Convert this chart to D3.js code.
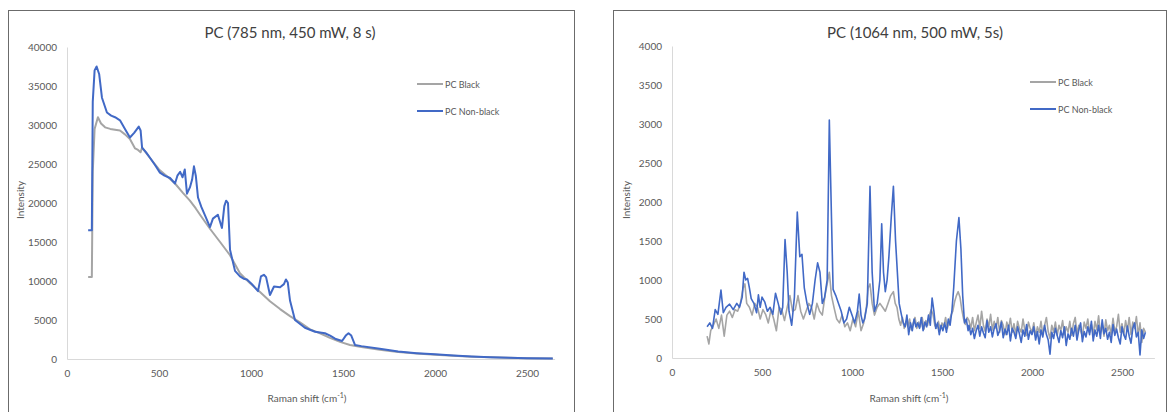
<!DOCTYPE html>
<html>
<head>
<meta charset="utf-8">
<script src="https://cdn.jsdelivr.net/npm/d3@7"></script>
<style>
  body { margin: 0; background: #fff; }
  svg text { font-family: Lato, "Open Sans", sans-serif; fill: #595959; }
</style>
</head>
<body>
<svg id="chart" width="1168" height="412"></svg>
<script>
// PC spectra, 785 nm (left) and 1064 nm (right)
var seriesNames = ["PC Black", "PC Non-black"];
var seriesColors = ["#a5a5a5", "#4169c6"];

var xTicks = [0, 500, 1000, 1500, 2000, 2500];
var yTicks785 = [0, 5000, 10000, 15000, 20000, 25000, 30000, 35000, 40000];
var yTicks1064 = [0, 500, 1000, 1500, 2000, 2500, 3000, 3500, 4000];

var pc785Black = [
  [115,10500],[135,10500],[140,24000],[150,29500],[168,31000],[185,30200],[207,29700],[235,29500],
  [261,29400],[288,29300],[315,28800],[342,28200],[370,27000],[386,26800],[400,26500],[408,27100],
  [450,25800],[500,24300],[550,23300],[587,22500],[630,21300],[668,20300],[700,19300],[723,18500],
  [777,16700],[832,15000],[886,13300],[940,11000],[995,9700],[1049,8600],[1103,7400],[1158,6400],
  [1212,5500],[1266,4700],[1321,3800],[1375,3300],[1429,2700],[1484,2200],[1538,1800],[1600,1550],
  [1700,1200],[1800,900],[1900,700],[2000,550],[2100,420],[2200,300],[2300,220],[2400,150],
  [2500,100],[2640,50]
];
var pc785NonBlack = [
  [115,16500],[135,16500],[140,33000],[150,37000],[161,37500],[175,36500],[190,33500],[217,31600],
  [240,31200],[261,31000],[288,30600],[315,29500],[342,28400],[365,29000],[390,29800],[400,29300],
  [408,27100],[430,26500],[451,25800],[480,24800],[505,23900],[530,23500],[560,23200],[587,22500],
  [600,23500],[615,24000],[628,23300],[640,24300],[652,21200],[668,22000],[680,23000],[690,24700],
  [700,23500],[712,20700],[730,19500],[750,18400],[777,16900],[793,18000],[820,18500],[842,16800],
  [855,19600],[865,20300],[875,20000],[886,14000],[913,11300],[940,10600],[960,10300],[978,10200],
  [1005,9600],[1038,8700],[1054,10600],[1070,10800],[1082,10500],[1103,8200],[1125,9300],[1158,9200],
  [1179,9600],[1190,10200],[1200,9800],[1212,7500],[1239,5000],[1293,4000],[1348,3500],[1402,3300],
  [1430,3000],[1457,2600],[1495,2300],[1515,3000],[1530,3300],[1545,3000],[1565,1800],[1600,1650],
  [1700,1300],[1800,950],[1900,750],[2000,600],[2100,450],[2200,320],[2300,240],[2400,160],
  [2500,110],[2640,60]
];

var pc1064Black = [
  [195,280],[205,180],[215,350],[230,420],[245,500],[260,380],[275,550],[290,280],[305,550],[320,600],
  [335,520],[350,620],[365,600],[380,700],[395,900],[405,950],[415,700],[430,650],[445,550],[460,700],
  [475,650],[490,500],[505,620],[520,560],[535,450],[550,620],[565,500],[580,350],[595,650],[610,620],
  [625,480],[640,650],[655,800],[670,600],[685,620],[700,800],[715,600],[730,500],[745,600],[760,700],
  [775,650],[790,500],[805,700],[820,600],[835,550],[850,800],[862,950],[874,1100],[886,800],[900,650],
  [915,500],[930,450],[945,550],[960,400],[975,450],[990,350],[1005,500],[1020,400],[1035,600],[1050,350],
  [1065,450],[1080,650],[1090,900],[1100,950],[1112,700],[1125,550],[1140,650],[1155,700],[1170,650],[1185,600],
  [1200,700],[1215,800],[1230,850],[1240,700],[1250,650],[1260,500],[1270,420],[1280,520],[1290,380],[1300,470],
  [1310,400],[1320,500],[1330,360],[1340,450],[1350,520],[1360,380],[1370,460],[1380,400],[1390,520],[1400,370],
  [1410,480],[1420,420],[1430,550],[1440,620],[1450,560],[1460,420],[1470,380],[1480,470],[1490,360],[1500,450],
  [1510,400],[1520,520],[1530,380],[1540,470],[1550,550],[1560,600],[1570,720],[1580,800],[1590,850],[1600,780],
  [1610,620],[1620,500],[1630,430],[1640,520],[1650,480],[1660,380],[1670,520],[1680,350],[1690,450],[1700,550],
  [1710,380],[1720,600],[1730,420],[1740,340],[1750,500],[1760,400],[1770,560],[1780,360],[1790,470],[1800,380],
  [1810,520],[1820,330],[1830,480],[1840,420],[1850,300],[1860,460],[1870,380],[1880,510],[1890,330],[1900,440],
  [1910,300],[1920,470],[1930,380],[1940,330],[1950,500],[1960,360],[1970,290],[1980,460],[1990,380],[2000,330],
  [2010,450],[2020,280],[2030,400],[2040,330],[2050,470],[2060,300],[2070,420],[2080,520],[2090,340],[2100,250],
  [2110,420],[2120,330],[2130,460],[2140,290],[2150,420],[2160,350],[2170,480],[2180,300],[2190,400],[2200,330],
  [2210,470],[2220,290],[2230,440],[2240,520],[2250,310],[2260,420],[2270,350],[2280,280],[2290,460],[2300,380],
  [2310,500],[2320,330],[2330,430],[2340,300],[2350,470],[2360,360],[2370,540],[2380,320],[2390,430],[2400,280],
  [2410,490],[2420,350],[2430,420],[2440,300],[2450,510],[2460,340],[2470,400],[2480,560],[2490,330],[2500,440],
  [2510,300],[2520,480],[2530,350],[2540,520],[2550,300],[2560,460],[2570,380],[2580,530],[2590,290],[2600,450],
  [2610,200],[2620,380],[2630,330]
];
var pc1064NonBlack = [
  [195,400],[210,450],[225,380],[240,620],[255,560],[272,870],[285,580],[300,650],[320,690],[340,620],
  [360,700],[375,650],[390,780],[400,1100],[410,1000],[420,1020],[430,900],[440,760],[455,700],[470,580],
  [480,810],[490,650],[500,780],[515,720],[530,600],[545,650],[560,560],[575,830],[590,700],[605,560],
  [615,650],[628,1520],[640,1100],[650,600],[665,420],[680,780],[696,1870],[710,1300],[722,1330],[735,900],
  [750,700],[765,560],[780,700],[795,1000],[809,1220],[822,1100],[835,700],[848,780],[862,1000],[874,3050],
  [886,1800],[895,880],[910,800],[925,700],[940,600],[955,450],[970,500],[985,650],[1000,550],[1015,450],
  [1030,600],[1040,820],[1050,550],[1060,450],[1070,500],[1085,700],[1100,2200],[1112,1100],[1125,600],[1140,700],
  [1155,1000],[1165,1720],[1175,1100],[1185,850],[1195,1000],[1205,1300],[1218,1800],[1230,2200],[1242,1500],[1252,1100],
  [1262,700],[1275,550],[1285,450],[1295,400],[1305,550],[1315,300],[1325,450],[1335,350],[1345,500],[1355,400],
  [1365,450],[1375,380],[1385,520],[1395,350],[1405,460],[1415,400],[1425,550],[1435,420],[1445,770],[1455,600],
  [1465,380],[1475,450],[1485,300],[1495,420],[1505,350],[1515,450],[1525,330],[1535,500],[1545,420],[1555,600],
  [1565,900],[1580,1500],[1594,1800],[1605,1400],[1615,800],[1625,450],[1635,500],[1645,350],[1650,420],[1660,300],
  [1670,380],[1680,250],[1690,350],[1700,420],[1710,280],[1720,400],[1730,320],[1740,260],[1750,480],[1760,330],
  [1770,400],[1780,270],[1790,380],[1800,440],[1810,290],[1820,350],[1830,460],[1840,260],[1850,370],[1860,300],
  [1870,420],[1880,220],[1890,380],[1900,330],[1910,250],[1920,400],[1930,310],[1940,200],[1950,360],[1960,280],
  [1970,430],[1980,240],[1990,350],[2000,300],[2010,400],[2020,230],[2030,340],[2040,180],[2050,360],[2060,270],
  [2070,420],[2080,300],[2090,230],[2100,50],[2110,330],[2120,250],[2130,380],[2140,290],[2150,200],[2160,350],
  [2170,260],[2180,400],[2190,160],[2200,310],[2210,240],[2220,380],[2230,280],[2240,420],[2250,230],[2260,360],
  [2270,450],[2280,210],[2290,340],[2300,270],[2310,400],[2320,300],[2330,470],[2340,220],[2350,360],[2360,280],
  [2370,420],[2380,250],[2390,490],[2400,310],[2410,380],[2420,240],[2430,330],[2440,200],[2450,430],[2460,290],
  [2470,370],[2480,260],[2490,180],[2500,400],[2510,300],[2520,240],[2530,410],[2540,280],[2550,190],[2560,380],
  [2570,450],[2580,270],[2590,330],[2600,40],[2610,360],[2620,250],[2630,330]
];

var svg = d3.select("#chart");

function panel(cfg) {
  var g = svg.append("g");
  g.append("rect")
    .attr("x", cfg.box[0] + 0.5).attr("y", cfg.box[1] + 0.5)
    .attr("width", cfg.box[2]).attr("height", cfg.box[3])
    .attr("fill", "#fff").attr("stroke", "#6b6b6b").attr("stroke-width", 1);

  var x = d3.scaleLinear().domain(cfg.xDomain).range(cfg.xRange);
  var y = d3.scaleLinear().domain(cfg.yDomain).range(cfg.yRange);

  // axes, Excel style: thin light lines, no tick marks
  var xa = g.append("g").attr("transform", "translate(0," + cfg.yRange[0] + ")")
    .call(d3.axisBottom(x).tickValues(cfg.xTicks).tickFormat(d3.format("d")).tickSize(0).tickPadding(11));
  xa.select(".domain").attr("stroke", "#d9d9d9");
  xa.selectAll("text").attr("font-size", 10);

  var ya = g.append("g").attr("transform", "translate(" + cfg.xRange[0] + ",0)")
    .call(d3.axisLeft(y).tickValues(cfg.yTicks).tickFormat(d3.format("d")).tickSize(0).tickPadding(10));
  ya.select(".domain").attr("stroke", "#d9d9d9");
  ya.selectAll("text").attr("font-size", 10);

  var line = d3.line().x(function(d) { return x(d[0]); }).y(function(d) { return y(d[1]); });
  cfg.series.forEach(function(s, i) {
    g.append("path").datum(s)
      .attr("fill", "none")
      .attr("stroke", seriesColors[i])
      .attr("stroke-width", cfg.lineWidth)
      .attr("stroke-linejoin", "round")
      .attr("d", line);
  });

  g.append("text").attr("x", cfg.title[1]).attr("y", cfg.title[2])
    .attr("text-anchor", "middle").attr("font-size", 15).style("fill", "#404040")
    .text(cfg.title[0]);

  g.append("text")
    .attr("transform", "translate(" + cfg.yTitle[0] + "," + cfg.yTitle[1] + ") rotate(-90)")
    .attr("text-anchor", "middle").attr("font-size", 10)
    .text("Intensity");

  var xt = g.append("text").attr("x", cfg.xTitle[0]).attr("y", cfg.xTitle[1])
    .attr("text-anchor", "middle").attr("font-size", 10);
  xt.append("tspan").text("Raman shift (cm");
  xt.append("tspan").attr("dy", -4).attr("font-size", 7).text("-1");
  xt.append("tspan").attr("dy", 4).text(")");

  seriesNames.forEach(function(n, i) {
    var ly = cfg.legend[1] + i * 27;
    g.append("line").attr("x1", cfg.legend[0]).attr("x2", cfg.legend[0] + 26)
      .attr("y1", ly).attr("y2", ly)
      .attr("stroke", seriesColors[i]).attr("stroke-width", 2);
    g.append("text").attr("x", cfg.legend[0] + 28).attr("y", ly + 3.5)
      .attr("font-size", 9).text(n);
  });
}

panel({
  box: [8, 10, 566, 402],
  xDomain: [0, 2650], xRange: [67, 554.6],
  yDomain: [0, 40000], yRange: [359, 47],
  xTicks: xTicks, yTicks: yTicks785,
  series: [pc785Black, pc785NonBlack], lineWidth: 2,
  title: ["PC (785 nm, 450 mW, 8 s)", 290, 38],
  yTitle: [24, 200], xTitle: [307, 402],
  legend: [417, 84]
});

panel({
  box: [613, 10, 553, 402],
  xDomain: [0, 2680], xRange: [672, 1154.4],
  yDomain: [0, 4000], yRange: [358, 46],
  xTicks: xTicks, yTicks: yTicks1064,
  series: [pc1064Black, pc1064NonBlack], lineWidth: 1.6,
  title: ["PC (1064 nm, 500 mW, 5s)", 915, 38],
  yTitle: [630, 200], xTitle: [909, 402],
  legend: [1030, 82]
});
</script>
</body>
</html>
